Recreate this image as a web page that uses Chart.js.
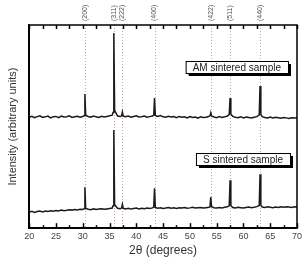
<!DOCTYPE html>
<html>
<head>
<meta charset="utf-8">
<script src="https://cdn.jsdelivr.net/npm/chart.js@4.4.1/dist/chart.umd.min.js"></script>
<style>
html,body{margin:0;padding:0;background:#fff;}
canvas{display:block;}
</style>
</head>
<body>
<canvas id="c" width="305" height="258"></canvas>
<script>
// 2θ positions (degrees)
const twoTheta = [
20,20.5,21,21.5,22,22.5,23,23.5,24,24.5,25,25.5,26,26.5,27,27.5,28,28.5,29,29.5,30,
30.25,30.4,30.55,
31,31.5,32,32.5,33,33.5,34,34.5,35,35.5,
35.65,35.8,35.95,
36.5,37,
37.25,37.4,37.55,
38,38.5,39,39.5,40,40.5,41,41.5,42,42.5,43,
43.25,43.4,43.55,
44,44.5,45,45.5,46,46.5,47,47.5,48,48.5,49,49.5,50,50.5,51,51.5,52,52.5,53,53.5,
53.75,53.9,54.05,
54.5,55,55.5,56,56.5,57,
57.35,57.5,57.65,
58,58.5,59,59.5,60,60.5,61,61.5,62,62.5,
62.95,63.1,63.25,
63.5,64,64.5,65,65.5,66,66.5,67,67.5,68,68.5,69,69.5,70
];
// AM sintered sample (offset upward, arbitrary units)
const amIntensity = [
54.6,55.1,54.4,54.9,55.3,54.5,54.8,55.2,54.3,54.9,55.0,54.4,55.2,54.7,54.9,55.3,54.5,54.8,55.1,54.6,55.0,
55.4,66.0,55.6,
55.0,54.6,55.2,54.8,54.5,55.1,54.7,55.0,55.3,55.6,
57.0,96.0,58.0,
55.2,55.0,
55.3,57.2,55.2,
54.9,55.2,54.6,55.0,55.3,54.7,54.9,55.2,54.6,54.9,55.2,
55.6,64.0,55.5,
55.0,55.4,54.8,54.6,55.1,54.7,54.9,54.4,55.0,54.6,54.8,54.3,54.9,54.5,54.7,54.2,54.8,54.5,54.6,55.0,
55.3,56.8,55.2,
54.7,54.4,54.9,54.5,54.8,55.2,
56.0,64.0,56.2,
55.0,54.6,54.4,54.8,54.3,54.7,54.5,54.2,54.6,54.9,
55.8,70.0,56.0,
54.9,54.5,54.3,54.7,54.2,54.6,54.4,54.1,54.5,54.3,54.0,54.4,54.2,54.3
];
// S sintered sample (arbitrary units)
const sIntensity = [
7.9,8.3,7.8,8.2,8.4,8.0,8.5,8.2,8.6,8.3,8.7,8.5,8.9,8.6,8.8,9.1,8.9,9.2,9.0,9.3,9.2,
9.6,20.2,9.7,
9.3,9.1,9.5,9.2,9.4,9.6,9.3,9.5,9.7,9.9,
11.0,48.3,11.5,
9.8,9.6,
9.9,11.8,9.8,
9.5,9.8,9.4,9.7,9.9,9.5,9.8,9.6,9.9,9.7,10.0,
10.3,19.7,10.2,
9.8,10.1,9.7,9.9,10.2,9.8,10.0,9.7,10.1,9.9,10.2,9.8,10.0,10.3,9.9,10.1,10.2,9.9,10.1,10.3,
10.5,15.3,10.6,
10.1,9.9,10.2,10.0,10.3,10.5,
11.0,23.6,11.2,
10.2,10.0,10.3,10.1,9.9,10.2,10.4,10.1,10.3,10.6,
11.2,26.6,11.4,
10.4,10.2,10.5,10.3,10.1,10.4,10.2,10.5,10.3,10.6,10.4,10.2,10.5,10.4
];
// Reflections (hkl) and their 2θ positions
const hklLabels = ['(200)','(311)','(222)','(400)','(422)','(511)','(440)'];
const hklPositions = [30.4,35.8,37.4,43.4,53.9,57.5,63.1];
// Axis ticks
const majorTicks = [20,25,30,35,40,45,50,55,60,65,70];
const minorTicks = [22.5,27.5,32.5,37.5,42.5,47.5,52.5,57.5,62.5,67.5];
// Sample labels: text, 2θ of box right edge, intensity of box centre
const sampleNames = ['AM sintered sample','S sintered sample'];
const sampleLabelX = [68.4, 68.7];
const sampleLabelY = [79.5, 34.2];

const FONT = '"Liberation Sans", Arial, sans-serif';

const decor = {
  id: 'decor',
  beforeDatasetsDraw(chart) {
    const {ctx, chartArea: a, scales: {x}} = chart;
    ctx.save();
    ctx.strokeStyle = 'rgba(200,110,160,0.7)';
    ctx.lineWidth = 1;
    ctx.setLineDash([1, 2]);
    hklPositions.forEach(p => {
      const px = Math.round(x.getPixelForValue(p)) + 0.5;
      ctx.beginPath();
      ctx.moveTo(px, a.top);
      ctx.lineTo(px, a.bottom);
      ctx.stroke();
    });
    ctx.restore();
  },
  afterDraw(chart) {
    const {ctx, chartArea: a, scales: {x, y}} = chart;
    ctx.save();
    ctx.strokeStyle = '#000';
    ctx.lineWidth = 1.5;
    ctx.strokeRect(a.left, a.top, a.right - a.left, a.bottom - a.top);
    const tick = (v, len) => {
      const px = Math.round(x.getPixelForValue(v)) + 0.5;
      ctx.beginPath(); ctx.moveTo(px, a.bottom); ctx.lineTo(px, a.bottom - len); ctx.stroke();
      ctx.beginPath(); ctx.moveTo(px, a.top); ctx.lineTo(px, a.top + 4); ctx.stroke();
    };
    majorTicks.forEach(v => tick(v, 5));
    minorTicks.forEach(v => tick(v, 3));
    // hkl labels, rotated, reading upward
    ctx.fillStyle = '#555';
    ctx.font = '7px ' + FONT;
    ctx.textAlign = 'left';
    ctx.textBaseline = 'middle';
    hklPositions.forEach((p, i) => {
      const px = x.getPixelForValue(p);
      ctx.save();
      ctx.translate(px, a.top - 4);
      ctx.rotate(-Math.PI / 2);
      ctx.fillText(hklLabels[i], 0, 0);
      ctx.restore();
    });
    // sample label boxes
    ctx.font = '10px ' + FONT;
    ctx.textAlign = 'center';
    ctx.textBaseline = 'middle';
    sampleNames.forEach((t, i) => {
      const w = ctx.measureText(t).width + 14;
      const h = 12;
      const rx = Math.round(x.getPixelForValue(sampleLabelX[i]));
      const cy = Math.round(y.getPixelForValue(sampleLabelY[i]));
      const lx = rx - w;
      const ty = cy - h / 2;
      ctx.fillStyle = '#000';
      ctx.fillRect(lx + 3, ty + 3, w, h);
      ctx.fillStyle = '#fff';
      ctx.fillRect(lx, ty, w, h);
      ctx.strokeStyle = '#000';
      ctx.lineWidth = 1;
      ctx.strokeRect(lx + 0.5, ty + 0.5, w, h);
      ctx.fillStyle = '#222';
      ctx.fillText(t, lx + w / 2, cy + 1);
    });
    ctx.restore();
  }
};

new Chart(document.getElementById('c'), {
  type: 'line',
  data: {
    datasets: [
      { label: 'AM sintered sample', data: twoTheta.map((t, i) => ({x: t, y: amIntensity[i]})),
        borderColor: '#1a1a1a', borderWidth: 1.5, pointRadius: 0, tension: 0, fill: false },
      { label: 'S sintered sample', data: twoTheta.map((t, i) => ({x: t, y: sIntensity[i]})),
        borderColor: '#1a1a1a', borderWidth: 1.5, pointRadius: 0, tension: 0, fill: false }
    ]
  },
  options: {
    responsive: false,
    animation: false,
    devicePixelRatio: 1,
    layout: { autoPadding: false, padding: { left: 4, right: 3, top: 25, bottom: 1 } },
    plugins: { legend: { display: false }, tooltip: { enabled: false } },
    scales: {
      x: {
        type: 'linear', min: 20, max: 70,
        ticks: { stepSize: 5, color: '#444', font: { family: FONT, size: 9 }, padding: 3, maxRotation: 0 },
        grid: { display: false, drawTicks: false },
        border: { display: true, color: '#000', width: 1.5 },
        title: { display: true, text: '2θ (degrees)', color: '#333', font: { family: FONT, size: 12, lineHeight: 1.0 }, padding: { top: 0, bottom: 0 } }
      },
      y: {
        min: 0, max: 100,
        ticks: { display: false },
        grid: { display: false, drawTicks: false },
        border: { display: true, color: '#000', width: 1.5 },
        title: { display: true, text: 'Intensity (arbitrary units)', color: '#333', font: { family: FONT, size: 11 }, padding: { top: 2, bottom: 10 } }
      }
    }
  },
  plugins: [decor]
});
</script>
</body>
</html>
